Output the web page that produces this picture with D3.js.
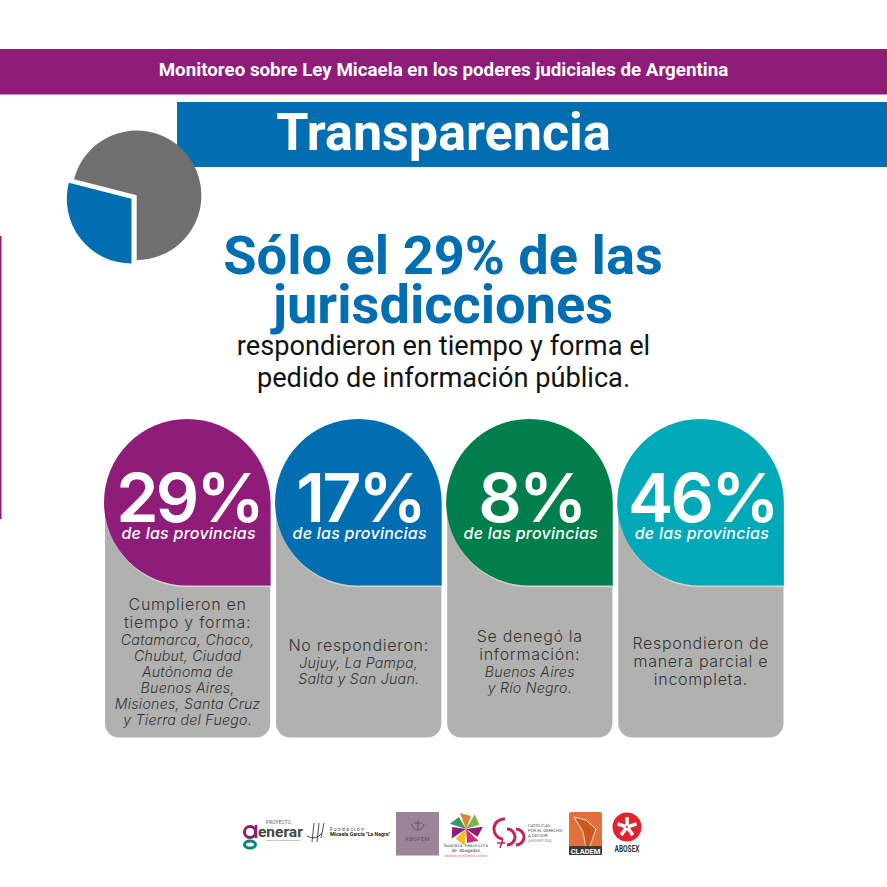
<!DOCTYPE html>
<html>
<head>
<meta charset="utf-8">
<script src="https://cdn.jsdelivr.net/npm/d3@7"></script>
<style>
  html, body { margin: 0; padding: 0; background: #fff; }
  svg { display: block; }
  text { font-family: Roboto, sans-serif; }
  .gothic { font-family: Inter, sans-serif; }
</style>
</head>
<body>
<svg id="chart" width="887" height="887"></svg>
<script>
const pieValues = [29, 71]
const pieColors = ['#006eb1', '#6f6f6f']

const percents = [29, 17, 8, 46]
const cardColors = ['#8e1c78', '#006eb1', '#007f4b', '#00a9b7']
const subLabel = 'de las provincias'
const leadLines = [
  ['Cumplieron en', 'tiempo y forma:'],
  ['No respondieron:'],
  ['Se denegó la', 'información:'],
  ['Respondieron de', 'manera parcial e', 'incompleta.']
]
const listLines = [
  ['Catamarca, Chaco,', 'Chubut, Ciudad', 'Autónoma de', 'Buenos Aires,', 'Misiones, Santa Cruz', 'y Tierra del Fuego.'],
  ['Jujuy, La Pampa,', 'Salta y San Juan.'],
  ['Buenos Aires', 'y Río Negro.'],
  []
]
const headerTitle = 'Monitoreo sobre Ley Micaela en los poderes judiciales de Argentina'
const bannerTitle = 'Transparencia'
const headlineLines = ['Sólo el 29% de las', 'jurisdicciones']
const subLines = ['respondieron en tiempo y forma el', 'pedido de información pública.']

const svg = d3.select('#chart')

// bands and left rule
svg.append('rect').attr('x', 0).attr('y', 49).attr('width', 887).attr('height', 45.5).attr('fill', '#8e1c78')
svg.append('rect').attr('x', 177).attr('y', 102).attr('width', 710).attr('height', 65).attr('fill', '#006eb1')
svg.append('rect').attr('x', 0).attr('y', 236).attr('width', 1.5).attr('height', 283).attr('fill', '#8e1c78')

svg.append('text').attr('x', 443.5).attr('y', 75.5).attr('text-anchor', 'middle')
  .attr('fill', '#fff').attr('font-size', 18.75).attr('font-weight', 700).text(headerTitle)
svg.append('text').attr('x', 443.5).attr('y', 150).attr('text-anchor', 'middle')
  .attr('fill', '#fff').attr('font-size', 52.1).attr('font-weight', 700).text(bannerTitle)

// pie, starts at six o'clock and goes clockwise
const pieLayout = d3.pie().sort(null).startAngle(Math.PI).endAngle(3 * Math.PI)
const arcGen = d3.arc().innerRadius(0).outerRadius(64.7)
const pieCentres = [[131.5, 198.8], [136.7, 195.3]]
svg.append('g').selectAll('path')
  .data(pieLayout(pieValues))
  .join('path')
  .attr('transform', (d, i) => `translate(${pieCentres[i]})`)
  .attr('d', arcGen)
  .attr('fill', (d, i) => pieColors[i])

// headline
svg.append('g').selectAll('text').data(headlineLines).join('text')
  .attr('x', 443).attr('y', (d, i) => 274 + i * 49).attr('text-anchor', 'middle')
  .attr('fill', '#006eb1').attr('font-size', 54.2).attr('font-weight', 700).text(d => d)
svg.append('g').selectAll('text').data(subLines).join('text')
  .attr('x', 443.5).attr('y', (d, i) => 355 + i * 32).attr('text-anchor', 'middle')
  .attr('fill', '#111').attr('font-size', 27.2).text(d => d)

// cards
const xScale = d3.scaleBand().domain(d3.range(percents.length)).range([105, 783.5]).paddingInner(0.034)
const w = xScale.bandwidth()
const dropPath = (x, top, width) => {
  const r = width / 2
  const p = d3.path()
  p.moveTo(x, top + r)
  p.arc(x + r, top + r, r, Math.PI, 2 * Math.PI)
  p.lineTo(x + width, top + 2 * r)
  p.lineTo(x + r, top + 2 * r)
  p.arc(x + r, top + r, r, Math.PI / 2, Math.PI)
  p.closePath()
  return p.toString()
}

const cards = svg.append('g').selectAll('g').data(percents).join('g')
  .attr('transform', (d, i) => `translate(${xScale(i)},0)`)

cards.append('path')
  .attr('d', () => {
    const p = d3.path(), top = 500, bottom = 737.5, c = 14
    p.moveTo(0, top)
    p.lineTo(w, top)
    p.lineTo(w, bottom - c)
    p.arc(w - c, bottom - c, c, 0, Math.PI / 2)
    p.lineTo(c, bottom)
    p.arc(c, bottom - c, c, Math.PI / 2, Math.PI)
    p.closePath()
    return p.toString()
  })
  .attr('fill', '#b1b1b0')
cards.append('path').attr('d', dropPath(0, 422, w)).attr('fill', '#d2d2d1')
cards.append('path').attr('d', dropPath(-1, 419, w + 1.3)).attr('fill', (d, i) => cardColors[i])

cards.append('text').attr('class', 'gothic')
  .attr('x', w / 2 + 1.5).attr('y', 521.5).attr('text-anchor', 'middle')
  .attr('fill', '#fff').attr('font-size', 68).attr('font-weight', 600).attr('letter-spacing', -2.8)
  .text(d => d + '%')
cards.append('text').attr('class', 'gothic')
  .attr('x', w / 2 + 1).attr('y', 539).attr('text-anchor', 'middle')
  .attr('fill', '#fff').attr('font-size', 16).attr('font-weight', 500).attr('font-style', 'italic')
  .attr('letter-spacing', 0.25)
  .text(subLabel)

const leadStep = 18, listStep = 16
cards.each(function (d, i) {
  const lead = leadLines[i], list = listLines[i]
  const h = lead.length * leadStep + list.length * listStep
  let y = 663.5 - h / 2 + 12
  const g = d3.select(this)
  lead.forEach(t => {
    g.append('text').attr('class', 'gothic').attr('x', w / 2).attr('y', y).attr('text-anchor', 'middle')
      .attr('fill', '#333').attr('font-size', 16).attr('font-weight', 300).attr('letter-spacing', 0.7).text(t)
    y += leadStep
  })
  list.forEach(t => {
    g.append('text').attr('class', 'gothic').attr('x', w / 2).attr('y', y - 1).attr('text-anchor', 'middle')
      .attr('fill', '#333').attr('font-size', 14.2).attr('font-weight', 300).attr('font-style', 'italic')
      .attr('letter-spacing', 0.25).text(t)
    y += listStep
  })
})

// sponsor logos
const logos = svg.append('g')
const logoText = (x, y, size, fill, str, weight, anchor) => logos.append('text')
  .attr('x', x).attr('y', y).attr('font-size', size).attr('fill', fill)
  .attr('font-weight', weight || 400).attr('text-anchor', anchor || 'start').text(str)

// generar
logos.append('circle').attr('cx', 250).attr('cy', 832).attr('r', 5.5).attr('fill', 'none').attr('stroke', '#8e1c78').attr('stroke-width', 3)
logos.append('path').attr('d', 'M256 825 V838').attr('stroke', '#8e1c78').attr('stroke-width', 2.5)
logos.append('ellipse').attr('cx', 250).attr('cy', 844.5).attr('rx', 5.5).attr('ry', 3.5).attr('fill', 'none').attr('stroke', '#00897b').attr('stroke-width', 3)
logoText(266, 824, 5, '#666', 'PROYECTO')
logoText(258, 837, 15.5, '#444', 'enerar', 700)
logoText(266, 841, 2.5, '#666', 'Instituto de estudios de género')
// Fundacion
logos.append('path').attr('d', 'M307 836 Q316 841 322 833 M314 823 L312 842 M319 823 L317 842 M324 823 L321 838')
  .attr('fill', 'none').attr('stroke', '#222').attr('stroke-width', 0.8)
logoText(330, 831, 4.5, '#333', 'Fundación').attr('letter-spacing', 1.6)
logoText(330, 836, 5.2, '#222', 'Micaela García "La Negra"', 700)
// ABOFEM
logos.append('rect').attr('x', 396).attr('y', 812).attr('width', 43).attr('height', 43.5).attr('fill', '#9a8698')
logos.append('path').attr('d', 'M412 824 a6 6 0 0 0 12 0 M418 820 V830 M414 823 H422')
  .attr('fill', 'none').attr('stroke', '#5d4a5c').attr('stroke-width', 0.8)
logoText(417.5, 841, 5.5, '#5d4a5c', 'ABOFEM', 400, 'middle').attr('letter-spacing', 0.5)
// Guardia
const starColors = ['#e0862f', '#7ab648', '#8e1c78', '#d62a7e', '#f0c020', '#8e1c78', '#3a9a5c']
logos.append('g').attr('transform', 'translate(466,829)').selectAll('path')
  .data(starColors).join('path')
  .attr('d', 'M0 0 L-6 -16 L5 -13 Z')
  .attr('transform', (d, i) => `rotate(${i * 360 / starColors.length})`)
  .attr('fill', d => d)
logoText(466, 847, 4.3, '#333', 'Guardia Feminista', 400, 'middle').style('font-family', 'DejaVu Sans Mono')
logoText(466, 852, 4.3, '#333', 'de Abogadas', 400, 'middle').style('font-family', 'DejaVu Sans Mono')
logoText(466, 856.5, 2.8, '#d4688f', 'Decididas por el Derecho a Decidir', 400, 'middle')
// Catolicas
logos.append('path').attr('d', 'M505 819 a10 10 0 0 0 -2 20 M507 829 a8 8 0 0 1 0 16 M516 829 a8 8 0 0 1 0 16')
  .attr('fill', 'none').attr('stroke', '#c2255c').attr('stroke-width', 3)
logos.append('path').attr('d', 'M500 848 L503 839 M497 843 H505').attr('stroke', '#c2255c').attr('stroke-width', 1.5)
;['CATÓLICAS', 'POR EL DERECHO', 'A DECIDIR', 'ARGENTINA'].forEach((t, i) => logoText(528, 827 + i * 5, 4.3, i == 3 ? '#999' : '#555', t))
// CLADEM
logos.append('rect').attr('x', 569).attr('y', 812).attr('width', 33).attr('height', 43).attr('rx', 2).attr('fill', '#e2703a')
logos.append('path').attr('d', 'M574 817 L586 820 L596 829 L590 846 L586 848 L583 832 Z').attr('fill', '#c9591f').attr('stroke', '#fbe3d2').attr('stroke-width', 1)
logos.append('rect').attr('x', 569).attr('y', 846).attr('width', 33).attr('height', 9).attr('rx', 1).attr('fill', '#3a3a3a')
logoText(585.5, 853.5, 7.5, '#fff', 'CLADEM', 700, 'middle')
// ABOSEX
logos.append('circle').attr('cx', 627).attr('cy', 827).attr('r', 14.5).attr('fill', '#e4222c')
logos.append('g').selectAll('rect').data(d3.range(5)).join('rect')
  .attr('x', 625.2).attr('y', 817).attr('width', 3.6).attr('height', 9).attr('fill', '#fff')
  .attr('transform', d => `rotate(${d * 72} 627 827)`)
logoText(627, 852, 9, '#333', 'ABOSEX', 700, 'middle').attr('textLength', 25).attr('lengthAdjust', 'spacingAndGlyphs')
</script>
</body>
</html>
